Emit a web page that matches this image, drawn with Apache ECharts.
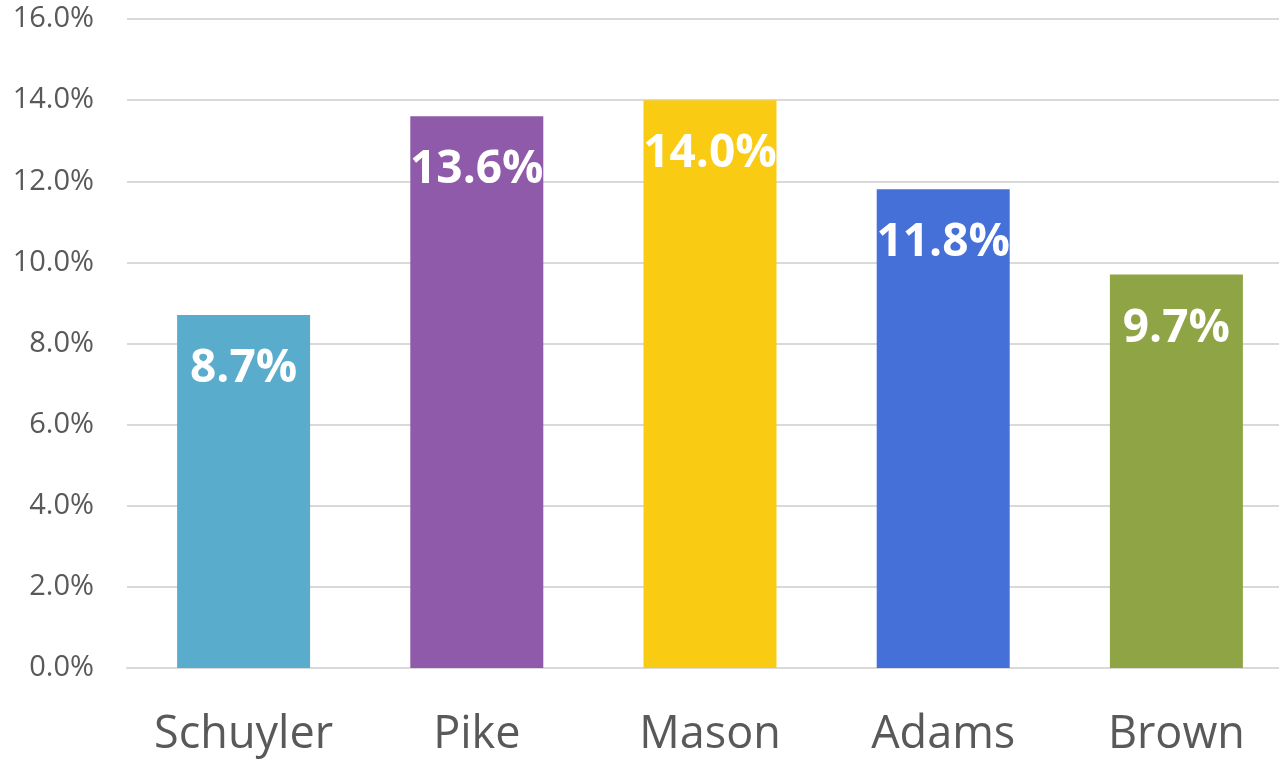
<!DOCTYPE html>
<html>
<head>
<meta charset="utf-8">
<script src="https://cdn.jsdelivr.net/npm/echarts@6/dist/echarts.min.js"></script>
<style>
  html, body { margin: 0; padding: 0; background: #fff; }
  #chart { width: 1279px; height: 759px; }
</style>
</head>
<body>
<div id="chart"></div>
<script>
// county names and their rates (percent)
var counties = ['Schuyler', 'Pike', 'Mason', 'Adams', 'Brown'];
var rates = [8.7, 13.6, 14.0, 11.8, 9.7];
var barColors = ['#5AACCD', '#8F5AAA', '#F9CB13', '#4570D7', '#8FA445'];

var chart = echarts.init(document.getElementById('chart'));

function pct(v) {
  return Number(v).toFixed(1) + '%';
}

chart.setOption({
  animation: false,
  grid: {
    left: 127,
    right: -14,
    top: 19,
    bottom: 91,
    containLabel: false,
    outerBoundsMode: 'none'
  },
  xAxis: {
    type: 'category',
    data: counties,
    axisLine: { lineStyle: { color: '#d9d9d9', width: 2 } },
    axisTick: { show: false },
    axisLabel: {
      color: '#595959',
      fontFamily: 'Open Sans',
      fontSize: 45,
      margin: 45
    }
  },
  yAxis: {
    type: 'value',
    min: 0,
    max: 16,
    interval: 2,
    axisLine: { show: false },
    axisTick: { show: false },
    splitLine: { lineStyle: { color: '#d9d9d9', width: 2 } },
    axisLabel: {
      color: '#595959',
      fontFamily: 'Open Sans',
      fontSize: 29,
      margin: 33,
      formatter: pct
    }
  },
  series: [{
    type: 'bar',
    barWidth: 133,
    data: rates.map(function (v, i) {
      return { value: v, itemStyle: { color: barColors[i] } };
    }),
    label: {
      show: true,
      position: 'insideTop',
      distance: 31,
      color: '#fff',
      fontFamily: 'Open Sans',
      fontWeight: 'bold',
      fontSize: 46,
      formatter: function (p) { return pct(p.value); }
    }
  }]
});
</script>
</body>
</html>
